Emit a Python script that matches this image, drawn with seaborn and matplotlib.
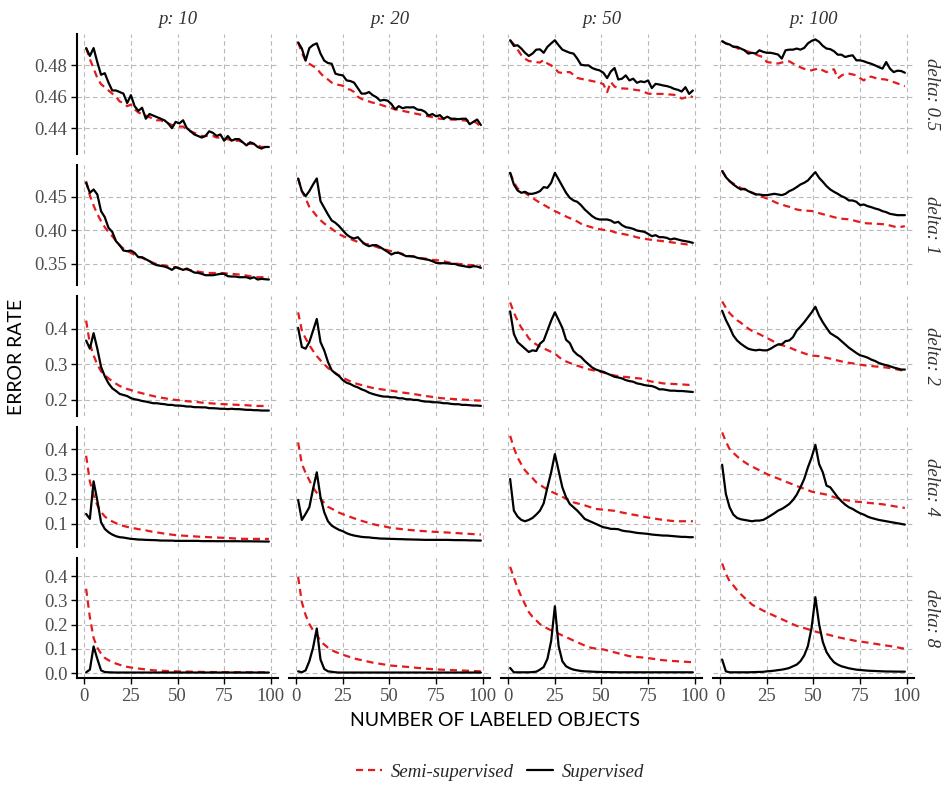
import matplotlib
matplotlib.use("Agg")
import matplotlib.pyplot as plt
import seaborn as sns
import pandas as pd
from matplotlib.lines import Line2D

# ---------------- data ----------------
X_LABELED = [1, 3, 5, 7, 9, 11, 13, 15, 17, 19,
             21, 23, 25, 27, 29, 31, 33, 35, 37, 39,
             41, 43, 45, 47, 49, 51, 53, 55, 57, 59,
             61, 63, 65, 67, 69, 71, 73, 75, 77, 79,
             81, 83, 85, 87, 89, 91, 93, 95, 97, 99]
P_VALUES = [10, 20, 50, 100]
DELTA_VALUES = ["0.5", "1", "2", "4", "8"]
METHODS = ["Semi-supervised", "Supervised"]
X_TICKS = [0, 25, 50, 75, 100]
X_TICKLABELS = ["0", "25", "50", "75", "100"]
Y_TICKS = [[0.44, 0.46, 0.48],
           [0.35, 0.40, 0.45],
           [0.2, 0.3, 0.4],
           [0.1, 0.2, 0.3, 0.4],
           [0.0, 0.1, 0.2, 0.3, 0.4]]
Y_TICKLABELS = [["0.44", "0.46", "0.48"],
                ["0.35", "0.40", "0.45"],
                ["0.2", "0.3", "0.4"],
                ["0.1", "0.2", "0.3", "0.4"],
                ["0.0", "0.1", "0.2", "0.3", "0.4"]]

# delta = 0.5
SUP_D05_P10 = [.491, .486, .491, .482, .474, .475, .469, .464, .464, .463,
               .462, .456, .461, .454, .451, .453, .446, .449, .448, .447,
               .446, .445, .443, .440, .444, .443, .445, .440, .438, .436,
               .435, .434, .435, .438, .437, .435, .436, .432, .435, .432,
               .433, .433, .431, .429, .431, .430, .428, .427, .428, .428]
SEMI_D05_P10 = [.491, .484, .478, .472, .468, .466, .464, .462, .460, .457,
                .456, .454, .455, .452, .450, .449, .448, .447, .446, .445,
                .445, .444, .443, .442, .441, .441, .441, .439, .438, .437,
                .436, .435, .435, .435, .435, .434, .434, .433, .433, .432,
                .432, .432, .431, .430, .430, .430, .429, .428, .428, .428]
SUP_D05_P20 = [.4946, .4907, .483, .491, .493, .494, .4875, .483, .4815, .481,
               .4747, .474, .4736, .4704, .470, .469, .4655, .462, .462, .463,
               .461, .4597, .4575, .458, .4575, .4554, .452, .454, .4527, .4533,
               .4532, .4533, .4518, .4516, .4505, .448, .449, .4475, .4483, .446,
               .4473, .446, .446, .4457, .446, .446, .4425, .444, .4455, .442]
SEMI_D05_P20 = [.4946, .488, .483, .481, .4795, .478, .475, .4725, .471, .469,
                .468, .4675, .467, .465, .4645, .463, .460, .4586, .4578, .457,
                .4562, .456, .455, .4542, .4535, .4527, .452, .4515, .451, .4505,
                .450, .4495, .449, .4485, .448, .4475, .447, .4465, .446, .4458,
                .4456, .4455, .4454, .4453, .445, .4448, .4447, .4447, .443, .441]
SUP_D05_P50 = [.496, .4924, .4928, .4907, .488, .486, .4875, .490, .4902, .488,
               .4918, .494, .496, .4928, .490, .489, .488, .4875, .4843, .4804,
               .480, .480, .4783, .4774, .4768, .4753, .4719, .4761, .4783, .471,
               .4715, .4736, .4704, .4715, .4689, .4698, .4693, .4704, .4655, .4682,
               .4678, .4672, .4668, .4661, .465, .4644, .4633, .4661, .4618, .464]
SEMI_D05_P50 = [.496, .4935, .490, .4865, .4842, .4828, .4824, .482, .4818, .4835,
                .4812, .480, .478, .4755, .4752, .4757, .4757, .474, .472, .4714,
                .471, .4705, .470, .4695, .469, .468, .4629, .4694, .4665, .4655,
                .4653, .4652, .465, .4646, .4642, .464, .463, .462, .4618, .4618,
                .4618, .4618, .4616, .4614, .4612, .4605, .4588, .4595, .4607, .4597]
SUP_D05_P100 = [.4954, .494, .4933, .4918, .4918, .4907, .4896, .4875, .488, .4875,
                .4896, .4886, .488, .488, .4875, .4869, .4843, .4896, .490, .490,
                .4907, .490, .4911, .494, .4956, .4965, .495, .4924, .4907, .4903,
                .489, .4868, .4868, .4853, .486, .4864, .4832, .4832, .4826, .4817,
                .481, .480, .4789, .4779, .4821, .4779, .4757, .4766, .4764, .4753]
SEMI_D05_P100 = [.4954, .494, .493, .4922, .491, .490, .4895, .4888, .4878, .487,
                 .486, .4853, .4821, .4818, .4812, .4812, .4818, .4823, .4826, .4812,
                 .480, .4787, .4778, .4772, .4768, .4775, .4782, .4768, .4757, .4768,
                 .4775, .4716, .4735, .4747, .4747, .4742, .4736, .4718, .4704, .4725,
                 .4728, .472, .4714, .4712, .4709, .470, .4693, .4685, .4676, .4667]

# delta = 1
SUP_D1_P10 = [.471, .456, .461, .4535, .4285, .4195, .4035, .3975, .3835, .3775,
              .3695, .3685, .3695, .366, .3595, .3595, .3565, .3535, .3495, .3475,
              .3465, .3455, .3435, .3405, .3445, .3425, .3405, .3425, .3395, .3365,
              .336, .3345, .3325, .3325, .3325, .3335, .3345, .3345, .331, .3305,
              .3305, .3295, .3295, .3295, .3275, .3295, .326, .327, .3265, .326]
SEMI_D1_P10 = [.4735, .452, .437, .424, .4135, .4045, .397, .391, .384, .377,
               .3725, .369, .366, .363, .3605, .3585, .356, .3535, .351, .349,
               .348, .347, .346, .345, .3445, .343, .342, .341, .3398, .339,
               .338, .337, .336, .3358, .3358, .3358, .3358, .3355, .335, .3345,
               .334, .3335, .333, .332, .331, .330, .3295, .3295, .3295, .3295]
SUP_D1_P20 = [.4775, .4585, .451, .4585, .4685, .4775, .4435, .4335, .4235, .4145,
              .411, .406, .3995, .3935, .3895, .3875, .3895, .3835, .3785, .376,
              .3775, .3775, .3745, .371, .3675, .3635, .366, .366, .3635, .361,
              .361, .3605, .3585, .3575, .3565, .3555, .3535, .351, .3505, .3505,
              .3505, .3495, .3495, .3475, .3465, .3455, .3445, .346, .3455, .3435]
SEMI_D1_P20 = [.4775, .4585, .4475, .435, .428, .421, .415, .410, .406, .402,
               .398, .394, .391, .389, .387, .3845, .3825, .381, .3795, .3785,
               .377, .375, .373, .3715, .370, .3685, .3675, .366, .3645, .362,
               .361, .3605, .359, .358, .3575, .3565, .3555, .355, .3545, .3535,
               .352, .351, .350, .3495, .349, .348, .3478, .3475, .347, .346]
SUP_D1_P50 = [.486, .4685, .4595, .456, .4575, .4545, .4545, .456, .4585, .4645,
              .4635, .471, .486, .476, .466, .456, .4485, .4445, .4425, .4375,
              .431, .426, .421, .4175, .416, .416, .416, .4145, .411, .4125,
              .4075, .4045, .4035, .402, .3995, .3985, .3975, .3945, .391, .3925,
              .3895, .3895, .3885, .386, .3875, .386, .3845, .3835, .3825, .381]
SEMI_D1_P50 = [.486, .472, .4625, .4595, .456, .452, .4485, .4445, .4412, .438,
               .4348, .4315, .4285, .426, .4232, .4205, .418, .416, .413, .4097,
               .4075, .4058, .404, .4025, .4015, .4005, .3998, .399, .397, .3955,
               .3945, .3935, .3922, .391, .3893, .388, .3872, .3862, .3855, .3848,
               .3842, .3835, .3828, .382, .3812, .3805, .3797, .379, .378, .3775]
SUP_D1_P100 = [.4885, .4795, .4735, .4685, .4645, .461, .462, .4585, .456, .4535,
               .4535, .4525, .4525, .4535, .4545, .4535, .4525, .4545, .4585, .461,
               .4645, .4685, .471, .4745, .481, .487, .4785, .4725, .466, .461,
               .4575, .4545, .451, .4485, .4445, .4445, .4425, .4375, .4385, .436,
               .4345, .4325, .431, .4285, .427, .4245, .4235, .4225, .4225, .4225]
SEMI_D1_P100 = [.4895, .480, .4735, .470, .4665, .4632, .461, .4585, .4565, .454,
                .4515, .4495, .4475, .4455, .4425, .440, .4385, .4365, .435, .433,
                .431, .430, .4295, .429, .4287, .428, .4255, .424, .4225, .421,
                .4195, .418, .4172, .4167, .4162, .415, .4135, .412, .4108, .4102,
                .410, .4097, .4093, .409, .4085, .407, .4055, .4045, .405, .406]

# delta = 2
SUP_D2_P10 = [.367, .344, .388, .344, .2925, .266, .246, .232, .2245, .216,
              .213, .210, .204, .201, .199, .196, .1944, .192, .1897, .1897,
              .188, .187, .185, .185, .183, .183, .182, .1804, .1804, .1785,
              .1785, .178, .178, .1757, .1757, .175, .174, .174, .173, .174,
              .173, .173, .172, .171, .171, .170, .170, .169, .169, .169]
SEMI_D2_P10 = [.4234, .358, .325, .299, .280, .269, .260, .252, .245, .2385,
               .234, .230, .227, .2235, .2205, .218, .215, .2125, .210, .2075,
               .2055, .204, .202, .2005, .199, .198, .197, .1955, .1945, .1938,
               .1928, .1915, .1905, .1898, .189, .188, .1875, .187, .1865, .186,
               .1855, .185, .1845, .184, .1832, .1825, .182, .182, .182, .182]
SUP_D2_P20 = [.403, .3486, .344, .3626, .395, .428, .3626, .339, .3065, .283,
              .274, .2664, .255, .2477, .244, .2383, .2346, .229, .2252, .2196,
              .2159, .213, .2103, .2084, .2084, .2065, .2065, .2037, .2037, .2009,
              .2009, .199, .199, .1963, .1944, .1944, .1925, .1925, .1916, .1897,
              .1897, .1879, .1869, .1869, .185, .185, .1841, .1832, .1832, .1822]
SEMI_D2_P20 = [.4467, .3953, .373, .354, .338, .323, .311, .300, .2895, .2815,
               .275, .268, .262, .2565, .2515, .247, .244, .241, .238, .2355,
               .233, .231, .2295, .228, .2265, .2253, .2235, .222, .220, .2185,
               .2172, .2155, .214, .212, .2103, .209, .2075, .206, .2045, .2035,
               .2028, .202, .2013, .2009, .2003, .1995, .1988, .198, .1975, .1972]
SUP_D2_P50 = [.4495, .386, .3626, .3533, .3439, .3346, .3393, .3374, .358, .3673,
              .3953, .4234, .4467, .4252, .4028, .3692, .3598, .3374, .3271, .3206,
              .3093, .300, .2907, .285, .2813, .2785, .2738, .2692, .2645, .2626,
              .2598, .2551, .2523, .2505, .2458, .2439, .2411, .2393, .2383, .2346,
              .229, .229, .2271, .2252, .2252, .2243, .2243, .2234, .2224, .2215]
SEMI_D2_P50 = [.4748, .446, .423, .4035, .390, .3735, .363, .356, .350, .345,
               .340, .335, .3299, .321, .313, .308, .3035, .300, .296, .2925,
               .289, .286, .2835, .2813, .279, .2765, .274, .2705, .268, .2665,
               .2648, .264, .2628, .2615, .2605, .2595, .2565, .2535, .2508, .2495,
               .248, .2458, .2452, .2446, .2441, .2435, .243, .2422, .2415, .2411]
SUP_D2_P100 = [.4514, .4252, .4047, .3813, .3673, .358, .3505, .3439, .341, .3393,
               .341, .3393, .3393, .3439, .3505, .3561, .3561, .3654, .3673, .3766,
               .3953, .4065, .4187, .4327, .4467, .4626, .4374, .4187, .4028, .3879,
               .3813, .3748, .3654, .3561, .3467, .3393, .3318, .3252, .3224, .3187,
               .3131, .3093, .3037, .300, .2972, .2944, .2907, .2879, .285, .285]
SEMI_D2_P100 = [.4776, .460, .4445, .434, .4245, .4175, .4095, .401, .3945, .3895,
                .385, .3795, .374, .369, .363, .358, .354, .351, .3475, .343,
                .3385, .3345, .331, .327, .3245, .3237, .3228, .3205, .318, .3159,
                .3132, .3105, .308, .306, .304, .3025, .3005, .299, .2972, .296,
                .295, .2938, .2928, .2917, .2907, .289, .2872, .285, .283, .2813]

# delta = 4
SUP_D4_P10 = [.14, .12, .2707, .1933, .1067, .08, .0667, .0573, .0507, .0467,
              .0453, .0427, .04, .039, .0373, .037, .036, .0355, .035, .0345,
              .0333, .0333, .033, .033, .032, .032, .032, .032, .032, .032,
              .032, .031, .031, .031, .031, .0307, .0307, .0307, .0307, .0307,
              .0307, .0305, .0303, .0303, .0303, .030, .030, .0295, .0293, .0293]
SEMI_D4_P10 = [.3733, .27, .215, .175, .148, .13, .118, .11, .103, .097,
               .092, .088, .085, .082, .079, .077, .074, .071, .068, .066,
               .0635, .061, .059, .057, .055, .054, .053, .052, .051, .050,
               .049, .0482, .0475, .0468, .046, .0455, .0448, .0442, .0435, .0425,
               .0415, .0408, .0402, .040, .040, .040, .040, .040, .040, .040]
SUP_D4_P20 = [.196, .116, .14, .1667, .24, .3067, .2067, .1467, .1107, .0933,
              .084, .076, .0707, .0627, .0573, .0533, .0507, .048, .0467, .046,
              .044, .043, .0413, .041, .0405, .040, .0395, .039, .0387, .038,
              .0377, .0373, .037, .0365, .036, .036, .036, .036, .036, .036,
              .036, .0355, .035, .035, .0347, .0347, .034, .034, .0335, .0333]
SEMI_D4_P20 = [.4267, .34, .305, .275, .2455, .2245, .201, .184, .1685, .161,
               .153, .145, .139, .1335, .128, .1225, .117, .1125, .108, .1035,
               .0995, .0958, .093, .0905, .087, .084, .0822, .0805, .0787, .077,
               .0755, .0743, .073, .0718, .0707, .0698, .0688, .068, .067, .0663,
               .0655, .0645, .0636, .0627, .0618, .061, .060, .059, .058, .0573]
SUP_D4_P50 = [.28, .1533, .1293, .116, .1107, .116, .124, .1373, .1533, .1827,
              .2467, .3067, .38, .3133, .2467, .2067, .18, .1667, .1533, .1373,
              .12, .1133, .1067, .10, .0933, .0867, .084, .08, .08, .0787,
              .0733, .0707, .0693, .0667, .064, .0627, .0613, .06, .0573, .056,
              .0547, .0533, .0533, .052, .0507, .0493, .048, .048, .0467, .0467]
SEMI_D4_P50 = [.4533, .405, .366, .339, .3145, .2985, .284, .2667, .2565, .247,
               .2375, .230, .2227, .2155, .2085, .2015, .1935, .1865, .1825, .1785,
               .1745, .1695, .1645, .160, .1585, .157, .1555, .154, .1525, .1488,
               .1458, .1428, .140, .137, .1343, .1312, .1282, .1255, .1232, .1208,
               .1184, .116, .1145, .1128, .1112, .1107, .1107, .1107, .1107, .1107]
SUP_D4_P100 = [.3373, .22, .1667, .1373, .124, .1187, .116, .1133, .1107, .1133,
               .1133, .116, .124, .1333, .1427, .1533, .16, .1693, .18, .196,
               .2173, .2467, .28, .3267, .3667, .4173, .34, .3067, .2533, .2467,
               .2267, .2067, .1907, .1773, .1667, .16, .1507, .1427, .1373, .1293,
               .124, .12, .116, .1133, .1107, .108, .1053, .1027, .10, .0973]
SEMI_D4_P100 = [.4667, .43, .40, .385, .371, .358, .348, .338, .3305, .3225,
                .315, .307, .30, .293, .2875, .282, .276, .2695, .264, .258,
                .252, .2465, .241, .2355, .2295, .226, .223, .2205, .2173, .2125,
                .2075, .2025, .1985, .196, .1932, .1907, .1892, .1878, .1865, .1848,
                .1833, .1818, .1803, .1788, .1762, .1738, .1712, .1688, .1663, .164]

# delta = 8
SUP_D8_P10 = [.003, .014, .11, .0585, .011, .004, .003, .0025, .002, .002,
              .002, .002, .002, .002, .002, .002, .002, .002, .002, .002,
              .002, .002, .002, .002, .002, .002, .002, .002, .002, .002,
              .002, .002, .002, .002, .002, .002, .002, .002, .002, .002,
              .002, .002, .002, .002, .002, .002, .002, .002, .002, .002]
SEMI_D8_P10 = [.3484, .23, .145, .105, .08, .0627, .053, .046, .039, .034,
               .029, .0255, .0228, .0205, .0185, .0167, .0148, .013, .0115, .0102,
               .0095, .0088, .0082, .0076, .007, .0067, .0063, .006, .0056, .0053,
               .005, .0046, .0042, .004, .004, .0039, .0038, .0037, .0036, .0035,
               .0034, .0034, .0033, .0033, .0032, .0032, .0031, .0031, .003, .003]
SUP_D8_P20 = [.007, .003, .011, .0488, .1045, .184, .0557, .0167, .007, .005,
              .003, .002, .002, .002, .002, .002, .002, .002, .002, .002,
              .002, .002, .002, .002, .002, .002, .002, .002, .002, .002,
              .002, .002, .002, .002, .002, .002, .002, .002, .002, .002,
              .002, .002, .002, .002, .002, .002, .002, .002, .002, .002]
SEMI_D8_P20 = [.397, .2927, .24, .203, .1765, .158, .133, .1175, .105, .0948,
               .0875, .081, .0755, .0705, .0655, .0605, .0565, .0535, .050, .0465,
               .043, .0405, .038, .0355, .033, .0307, .0295, .0282, .027, .0257,
               .0245, .0228, .0212, .0197, .0181, .0172, .0162, .0153, .0143, .0135,
               .0129, .0123, .0117, .0111, .0104, .0097, .009, .0083, .0077, .007]
SUP_D8_P50 = [.0209, .003, .003, .003, .003, .003, .004, .0056, .014, .025,
              .0585, .1324, .276, .1115, .0488, .0279, .0195, .014, .011, .0084,
              .007, .0065, .0056, .005, .0045, .004, .004, .0035, .0035, .003,
              .003, .003, .003, .003, .003, .003, .003, .003, .003, .003,
              .003, .003, .003, .003, .003, .003, .003, .003, .003, .003]
SEMI_D8_P50 = [.439, .395, .352, .3155, .284, .252, .2325, .2175, .2021, .1925,
               .184, .1765, .17, .1625, .1552, .1485, .1415, .134, .127, .1205,
               .1135, .107, .1035, .101, .099, .0975, .0935, .0895, .0855, .0815,
               .0775, .0735, .0697, .0682, .0666, .065, .0635, .0617, .0595, .0573,
               .0552, .053, .0518, .0506, .0494, .0484, .0474, .0465, .0455, .0446]
SUP_D8_P100 = [.0557, .007, .003, .003, .003, .003, .003, .003, .0035, .004,
               .0045, .005, .007, .008, .0098, .012, .014, .017, .0209, .0279,
               .0348, .0488, .0725, .1115, .1882, .3136, .2021, .1282, .0864, .0627,
               .0446, .0348, .0279, .0237, .0195, .0167, .014, .0126, .0112, .0098,
               .009, .0084, .0077, .007, .0065, .0063, .006, .0058, .0056, .0056]
SEMI_D8_P100 = [.453, .41, .38, .362, .343, .326, .311, .298, .283, .2745,
                .2665, .258, .2509, .2437, .2365, .2294, .2225, .2155, .2085, .2015,
                .1951, .1905, .1858, .1812, .1765, .1715, .1675, .1635, .1603, .1563,
                .1523, .1483, .1448, .1418, .1387, .1355, .1324, .1302, .128, .1258,
                .1236, .121, .1185, .116, .1137, .1115, .1087, .1059, .1031, .1003]

SERIES = {
    ("0.5", 10): (SEMI_D05_P10, SUP_D05_P10), ("0.5", 20): (SEMI_D05_P20, SUP_D05_P20),
    ("0.5", 50): (SEMI_D05_P50, SUP_D05_P50), ("0.5", 100): (SEMI_D05_P100, SUP_D05_P100),
    ("1", 10): (SEMI_D1_P10, SUP_D1_P10), ("1", 20): (SEMI_D1_P20, SUP_D1_P20),
    ("1", 50): (SEMI_D1_P50, SUP_D1_P50), ("1", 100): (SEMI_D1_P100, SUP_D1_P100),
    ("2", 10): (SEMI_D2_P10, SUP_D2_P10), ("2", 20): (SEMI_D2_P20, SUP_D2_P20),
    ("2", 50): (SEMI_D2_P50, SUP_D2_P50), ("2", 100): (SEMI_D2_P100, SUP_D2_P100),
    ("4", 10): (SEMI_D4_P10, SUP_D4_P10), ("4", 20): (SEMI_D4_P20, SUP_D4_P20),
    ("4", 50): (SEMI_D4_P50, SUP_D4_P50), ("4", 100): (SEMI_D4_P100, SUP_D4_P100),
    ("8", 10): (SEMI_D8_P10, SUP_D8_P10), ("8", 20): (SEMI_D8_P20, SUP_D8_P20),
    ("8", 50): (SEMI_D8_P50, SUP_D8_P50), ("8", 100): (SEMI_D8_P100, SUP_D8_P100),
}

rows = []
for (d, p), (semi, sup) in SERIES.items():
    for m, vals in zip(METHODS, (semi, sup)):
        assert len(vals) == len(X_LABELED), f"{m} delta {d} p {p}: {len(vals)}"
        for n, v in zip(X_LABELED, vals):
            rows.append({"delta": d, "p": p, "method": m, "n": n, "error": v})
df = pd.DataFrame(rows)

# ---------------- style ----------------
sns.set_theme(style="white")
SERIF = ["Liberation Serif", "DejaVu Serif"]
plt.rcParams["font.family"] = SERIF
PALETTE = {"Semi-supervised": "#E41A1C", "Supervised": "#000000"}
DASHES = {"Semi-supervised": (3.2, 2.2), "Supervised": ""}
TICK_COLOR = "#4D4D4D"
STRIP_COLOR = "#333333"
FS = 13.5

W, H = 944, 790
fig, axes = plt.subplots(5, 4, figsize=(W / 100, H / 100), dpi=100,
                         sharex=True, sharey="row")
fig.subplots_adjust(left=77 / W, right=914 / W, top=1 - 34 / H, bottom=1 - 678 / H,
                    wspace=11 / 201, hspace=11 / 120)

for i, d in enumerate(DELTA_VALUES):
    for j, p in enumerate(P_VALUES):
        ax = axes[i, j]
        sub = df[(df["delta"] == d) & (df["p"] == p)]
        sns.lineplot(data=sub, x="n", y="error", hue="method", style="method",
                     hue_order=METHODS, style_order=METHODS, palette=PALETTE,
                     dashes=DASHES, linewidth=1.6, errorbar=None, legend=False,
                     ax=ax)
        ax.set_xlabel("")
        ax.set_ylabel("")
        ax.grid(True, which="major", color="#b8b8b8", linestyle=(0, (4, 3)),
                linewidth=0.8)
        ax.set_axisbelow(True)
        for sp in ax.spines.values():
            sp.set_visible(False)
        if j == 0:
            ax.spines["left"].set_visible(True)
            ax.spines["left"].set_color("black")
            ax.spines["left"].set_linewidth(1.5)
        if i == 4:
            ax.spines["bottom"].set_visible(True)
            ax.spines["bottom"].set_color("black")
            ax.spines["bottom"].set_linewidth(1.5)
        ax.tick_params(axis="y", left=(j == 0), length=4, width=1, color="black",
                       labelsize=FS, labelcolor=TICK_COLOR, pad=3)
        ax.tick_params(axis="x", bottom=(i == 4), length=4, width=1, color="black",
                       labelsize=FS, labelcolor=TICK_COLOR, pad=3)

    axes[i, 0].set_yticks(Y_TICKS[i])
    axes[i, 0].set_yticklabels(Y_TICKLABELS[i])
    axes[i, 3].annotate(f"delta: {d}", xy=(1, 0.5), xycoords="axes fraction",
                        xytext=(12.3, 0), textcoords="offset points",
                        rotation=270, ha="center", va="center",
                        fontsize=FS, style="italic", color=STRIP_COLOR)

axes[4, 0].set_xticks(X_TICKS)
axes[4, 0].set_xticklabels(X_TICKLABELS)
for j in range(4):
    axes[4, j].tick_params(axis="x", labelbottom=True)

for j, p in enumerate(P_VALUES):
    pos = axes[0, j].get_position()
    fig.text((pos.x0 + pos.x1) / 2, 1 - 24 / H, f"p: {p}", ha="center",
             va="baseline", fontsize=FS, style="italic", color=STRIP_COLOR)

fig.text(17 / W, 1 - 357 / H, "ERROR RATE", rotation=90, ha="center",
         va="center", fontsize=14, family=["Lato", "DejaVu Sans"], color="black")
fig.text(495.5 / W, 1 - 720 / H, "NUMBER OF LABELED OBJECTS", ha="center",
         va="center", fontsize=14, family=["Lato", "DejaVu Sans"], color="black")

handles = [Line2D([], [], color=PALETTE[m], linewidth=1.6,
                  dashes=DASHES[m] if DASHES[m] else (None, None))
           for m in METHODS]
handles[1].set_linestyle("-")
fig.legend(handles, METHODS, loc="center", bbox_to_anchor=(500 / W, 1 - 772 / H),
           ncol=2, frameon=False, handlelength=1.4, handletextpad=0.45,
           columnspacing=0.7,
           prop={"family": SERIF, "style": "italic", "size": FS})

fig.savefig("out.png", dpi=100)
